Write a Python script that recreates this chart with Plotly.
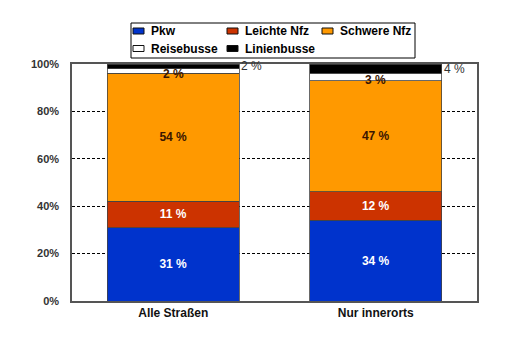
import plotly.graph_objects as go

categories = ["Alle Straßen", "Nur innerorts"]
series_names = ["Pkw", "Leichte Nfz", "Schwere Nfz", "Reisebusse", "Linienbusse"]
pkw = [31, 34]
leichte_nfz = [11, 12]
schwere_nfz = [54, 47]
reisebusse = [2, 3]
linienbusse = [2, 4]
y_ticks = [0, 20, 40, 60, 80, 100]
y_tick_labels = ["0%", "20%", "40%", "60%", "80%", "100%"]

values = [pkw, leichte_nfz, schwere_nfz, reisebusse, linienbusse]
colors = ["#0033CC", "#CC3300", "#FF9900", "#FFFFFF", "#000000"]
text_colors = ["#FFFFFF", "#FFFFFF", "#3A1500", "#3A1500", "#333333"]
FONT = "Arial, Liberation Sans, sans-serif"

W, H = 502, 347
ML, MR, MT, MB = 64, 33, 56, 54
PW, PH = W - ML - MR, H - MT - MB


def px(x):  # figure pixel -> paper x
    return (x - ML) / PW


def py(y):  # figure pixel -> paper y
    return (H - MB - y) / PH


fig = go.Figure()
for i, (name, vals) in enumerate(zip(series_names, values)):
    show_text = i < 3
    fig.add_trace(go.Bar(
        name=name, x=categories, y=vals,
        marker=dict(color=colors[i], line=dict(color="#444444", width=0.8)),
        text=[f"{v} %" for v in vals] if show_text else None,
        textposition="inside" if show_text else "none",
        insidetextanchor="middle",
        textangle=0,
        textfont=dict(family=FONT, size=12, color=text_colors[i], weight="bold"),
        width=0.65,
        hoverinfo="skip",
        showlegend=False,
    ))

# labels for thin segments
for ci, cat in enumerate(categories):
    base = pkw[ci] + leichte_nfz[ci] + schwere_nfz[ci]
    fig.add_annotation(x=ci, y=base + reisebusse[ci] / 2, text=f"{reisebusse[ci]} %",
                       showarrow=False, yanchor="middle", yshift=-3,
                       font=dict(family=FONT, size=12, color="#3A1500", weight="bold"))
    top = base + reisebusse[ci]
    fig.add_annotation(x=ci + 0.325, y=top + linienbusse[ci] / 2, text=f"{linienbusse[ci]} %",
                       showarrow=False, xanchor="left", yanchor="middle", xshift=0,
                       font=dict(family=FONT, size=12, color="#333333"))

# legend box (drawn by hand to match the original layout)
fig.add_shape(type="rect", xref="paper", yref="paper",
              x0=px(123), x1=px(407), y0=py(15), y1=py(50),
              line=dict(color="#000000", width=1), fillcolor="white", layer="above")
col_x = [125, 219, 314]
row_y = [23, 40.5]
for i, name in enumerate(series_names):
    cx = col_x[i % 3]
    ry = row_y[i // 3]
    fig.add_shape(type="rect", xref="paper", yref="paper",
                  x0=px(cx), x1=px(cx + 11), y0=py(ry - 3), y1=py(ry + 3),
                  line=dict(color="#111111", width=1), fillcolor=colors[i], layer="above")
    fig.add_annotation(xref="paper", yref="paper", x=px(cx + 16), y=py(ry),
                       xanchor="left", yanchor="middle", showarrow=False, text=name,
                       font=dict(family=FONT, size=12, color="#000000", weight="bold"))

fig.update_layout(
    barmode="stack",
    width=W, height=H,
    margin=dict(l=ML, r=MR, t=MT, b=MB),
    paper_bgcolor="white", plot_bgcolor="white",
    font=dict(family=FONT, size=12, color="#222222"),
    showlegend=False,
    xaxis=dict(
        showline=True, linecolor="#555555", linewidth=1.5, mirror=True,
        tickfont=dict(family=FONT, size=12, color="#111111", weight="bold"),
        ticks="", range=[-0.5, 1.5],
    ),
    yaxis=dict(
        range=[0, 100], tickvals=y_ticks, ticktext=y_tick_labels,
        showline=True, linecolor="#555555", linewidth=1.5, mirror=True,
        showgrid=True, gridcolor="#000000", griddash="3px,2px", gridwidth=1,
        tickfont=dict(family=FONT, size=11, color="#333333", weight="bold"),
        ticks="", ticklen=0, ticklabelstandoff=9,
    ),
)

fig.write_html("out.html")
